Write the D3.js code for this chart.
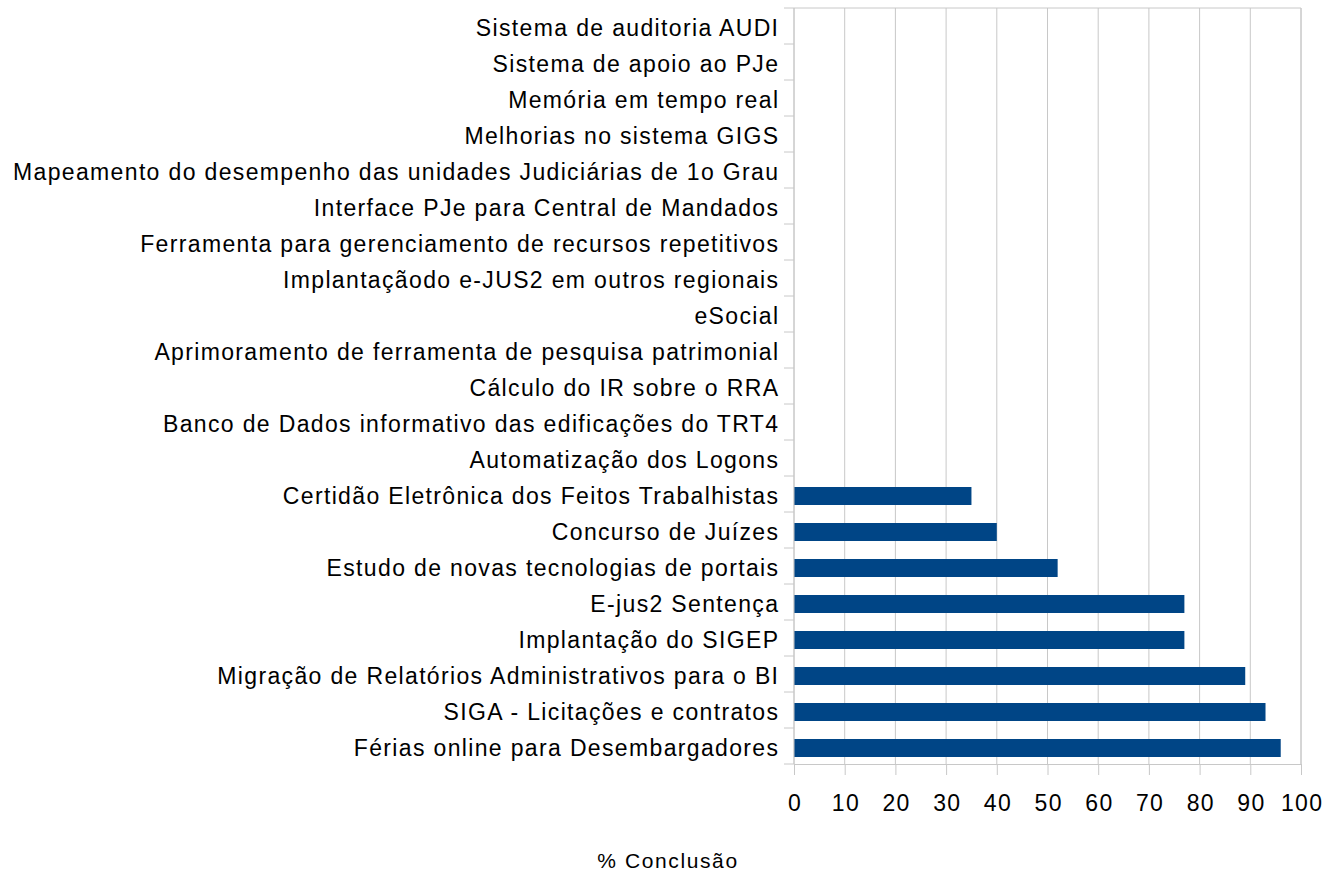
<!DOCTYPE html>
<html>
<head>
<meta charset="utf-8">
<script src="https://cdn.jsdelivr.net/npm/d3@7"></script>
<style>
  body { margin: 0; background: #fff; }
  text { font-family: "Liberation Sans", Arial, sans-serif; fill: #000; }
</style>
</head>
<body>
<div id="chart"></div>
<script>
// data (top to bottom)
const projects = [
    "Sistema de auditoria AUDI",
    "Sistema de apoio ao PJe",
    "Memória em tempo real",
    "Melhorias no sistema GIGS",
    "Mapeamento do desempenho das unidades Judiciárias de 1o Grau",
    "Interface PJe para Central de Mandados",
    "Ferramenta para gerenciamento de recursos repetitivos",
    "Implantaçãodo e-JUS2 em outros regionais",
    "eSocial",
    "Aprimoramento de ferramenta de pesquisa patrimonial",
    "Cálculo do IR sobre o RRA",
    "Banco de Dados informativo das edificações do TRT4",
    "Automatização dos Logons",
    "Certidão Eletrônica dos Feitos Trabalhistas",
    "Concurso de Juízes",
    "Estudo de novas tecnologias de portais",
    "E-jus2 Sentença",
    "Implantação do SIGEP",
    "Migração de Relatórios Administrativos para o BI",
    "SIGA - Licitações e contratos",
    "Férias online para Desembargadores"
]
const conclusao = [0, 0, 0, 0, 0, 0, 0, 0, 0, 0, 0, 0, 0, 35, 40, 52, 77, 77, 89, 93, 96]
const xTicks = [0, 10, 20, 30, 40, 50, 60, 70, 80, 90, 100]
const xTitle = "% Conclusão"

const width = 1328
const height = 872
const margin = { top: 8, right: 27, bottom: 108, left: 794 }
const innerW = width - margin.left - margin.right
const innerH = height - margin.top - margin.bottom
const fontSize = "23px"
const spacing = 1.35

const svg = d3.select("#chart").append("svg").attr("width", width).attr("height", height)
const g = svg.append("g").attr("transform", `translate(${margin.left}, ${margin.top})`)

// scales
const x = d3.scaleLinear().domain([0, 100]).range([0, innerW])
const yb = d3.scaleBand().domain(projects).range([0, innerH])

const gridColor = "#c8c8c8"

// vertical gridlines
g.append("g").selectAll("line").data(xTicks).enter().append("line")
    .attr("x1", d => x(d)).attr("x2", d => x(d))
    .attr("y1", 0).attr("y2", innerH)
    .attr("stroke", gridColor).attr("stroke-width", 1)

// frame top/right
g.append("line").attr("x1", 0).attr("x2", innerW).attr("y1", 0).attr("y2", 0).attr("stroke", gridColor)
g.append("line").attr("x1", innerW).attr("x2", innerW).attr("y1", 0).attr("y2", innerH).attr("stroke", gridColor)

// bars
g.append("g").selectAll("rect").data(projects).enter().append("rect")
    .attr("x", 0)
    .attr("y", (d, i) => yb(d) + yb.bandwidth() / 2 - 9 + 2)
    .attr("height", 18)
    .attr("width", (d, i) => x(conclusao[i]))
    .attr("fill", "#004586")

// x axis
const xAxis = d3.axisBottom(x).tickValues(xTicks).tickSize(11).tickPadding(14)
const xGroup = g.append("g").attr("transform", `translate(0, ${innerH})`).call(xAxis)
xGroup.select(".domain").attr("stroke", gridColor)
xGroup.selectAll(".tick line").attr("stroke", gridColor)
xGroup.selectAll(".tick text")
    .attr("font-family", null).attr("font-size", null)
    .attr("y", 0).attr("dy", null)
    .attr("transform", `translate(${spacing / 2}, 47)`)
    .style("font-size", fontSize)
    .style("letter-spacing", spacing + "px")

// y axis: ticks at band boundaries
const bounds = projects.map(d => yb(d)).concat([innerH])
g.append("g").selectAll("line").data(bounds).enter().append("line")
    .attr("x1", -10).attr("x2", 0)
    .attr("y1", d => d).attr("y2", d => d)
    .attr("stroke", gridColor)
g.append("line").attr("x1", 0).attr("x2", 0).attr("y1", 0).attr("y2", innerH).attr("stroke", gridColor)

g.append("g").selectAll("text").data(projects).enter().append("text")
    .attr("x", -16 + spacing)
    .attr("y", d => yb(d) + yb.bandwidth() / 2 + 10)
    .attr("text-anchor", "end")
    .style("font-size", fontSize)
    .style("letter-spacing", spacing + "px")
    .text(d => d)

// axis title
svg.append("text")
    .attr("x", 668)
    .attr("y", 868)
    .attr("text-anchor", "middle")
    .style("font-size", "21px")
    .style("letter-spacing", "1.6px")
    .text(xTitle)
</script>
</body>
</html>
